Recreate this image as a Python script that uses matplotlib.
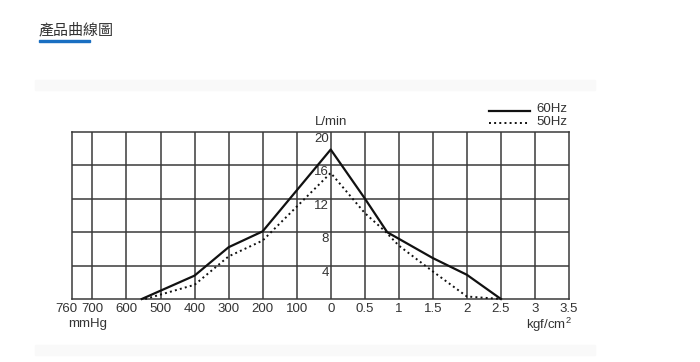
import matplotlib
matplotlib.use("Agg")
import matplotlib.pyplot as plt
from matplotlib.patches import Rectangle
from matplotlib.lines import Line2D
from matplotlib.transforms import ScaledTranslation

plt.rcParams['font.family'] = ['Liberation Sans', 'DejaVu Sans']

# vacuum side (mmHg) and pressure side (kgf/cm2)
vac_ticks = [760, 700, 600, 500, 400, 300, 200, 100, 0]
prs_ticks = [0.5, 1, 1.5, 2, 2.5, 3, 3.5]
flow_ticks = [4, 8, 12, 16, 20]

vac_60 = [555, 400, 300, 200, 0]
flow_vac_60 = [0, 2.8, 6.2, 8.1, 17.9]
prs_60 = [0, 0.5, 0.83, 1.5, 2.0, 2.5]
flow_prs_60 = [17.9, 12.05, 8.0, 4.9, 2.9, 0]

vac_50 = [545, 400, 300, 200, 0]
flow_vac_50 = [0, 1.7, 5.1, 7.0, 15.1]
prs_50 = [0, 0.5, 0.8, 1.0, 1.5, 2.0, 2.5]
flow_prs_50 = [15.1, 10.3, 8.1, 6.4, 3.3, 0.3, 0]


def pos(vac=None, prs=None):
    # one grid cell = 100 mmHg on the left, 0.5 kgf/cm2 on the right
    if vac is not None:
        return [-v / 100 for v in vac]
    return [p / 0.5 for p in prs]


W, H = 700, 362
FS = 9.5
TC = '#333333'
fig = plt.figure(figsize=(W / 100, H / 100), dpi=100)

# page title + underline
fig.text(39 / W, 1 - 30 / H, "產品曲線圖", family=['Noto Sans CJK TC', 'DejaVu Sans'],
         fontsize=10.8, color='#333333', va='center', ha='left')
fig.patches.append(Rectangle((39 / W, 1 - 42 / H), 51 / W, 2.5 / H, transform=fig.transFigure,
                             color='#1a6fc2', zorder=3))
# faint page bands
for y0 in (80, 345):
    fig.patches.append(Rectangle((35 / W, 1 - (y0 + 10) / H), 560 / W, 10 / H,
                                 transform=fig.transFigure, color='#f9f9f9', zorder=0))

ax = fig.add_axes([72 / W, 1 - 299 / H, 497 / W, 167 / H])
ax.set_xlim(-7.6, 7)
ax.set_ylim(0, 20)
gc = '#3a3a3a'
for s in ax.spines.values():
    s.set_color(gc)
    s.set_linewidth(1.1)

for x in range(-7, 7):
    ax.axvline(x, color=gc, lw=1.1, zorder=1)
for y in flow_ticks[:-1]:
    ax.axhline(y, color=gc, lw=1.1, zorder=1)

xt = pos(vac=vac_ticks) + pos(prs=prs_ticks)
xl = [str(v) for v in vac_ticks] + [f"{p:g}" for p in prs_ticks]
ax.set_xticks(xt)
ax.set_xticklabels(xl, fontsize=FS, color=TC)
ax.tick_params(axis='x', length=0, pad=3)
ax.set_yticks([])
lab760 = ax.get_xticklabels()[0]
lab760.set_transform(lab760.get_transform() + ScaledTranslation(-0.06, 0, fig.dpi_scale_trans))

for v in flow_ticks:
    ax.annotate(str(v), (0, v), xytext=(-1.5, -5), textcoords='offset points',
                ha='right', va='center', fontsize=FS, color=TC, zorder=2)
ax.annotate("L/min", (0, 20), xytext=(0, 7), textcoords='offset points',
            ha='center', va='center', fontsize=FS, color=TC)

ax.plot(pos(vac=vac_60) + pos(prs=prs_60), flow_vac_60 + flow_prs_60,
        color='#111111', lw=1.6, zorder=3, clip_on=False)
ax.plot(pos(vac=vac_50) + pos(prs=prs_50), flow_vac_50 + flow_prs_50,
        color='#111111', lw=1.4, ls=':', zorder=3, clip_on=False)

# legend drawn by hand, top right
fig.lines.append(Line2D([489 / W, 530 / W], [1 - 110.5 / H] * 2, transform=fig.transFigure,
                        color='#111111', lw=1.6))
fig.lines.append(Line2D([489 / W, 530 / W], [1 - 123 / H] * 2, transform=fig.transFigure,
                        color='#111111', lw=1.4, ls=':'))
fig.text(536 / W, 1 - 109 / H, "60Hz", fontsize=FS, color=TC, va='center')
fig.text(536 / W, 1 - 122 / H, "50Hz", fontsize=FS, color=TC, va='center')

fig.text(88 / W, 1 - 324 / H, "mmHg", fontsize=FS, color=TC, va='center', ha='center')
fig.text(572 / W, 1 - 325 / H, r"kgf/cm$^{\mathregular{2}}$", fontsize=FS, color=TC,
         va='center', ha='right')

fig.savefig("out.png", dpi=100, facecolor='white')
